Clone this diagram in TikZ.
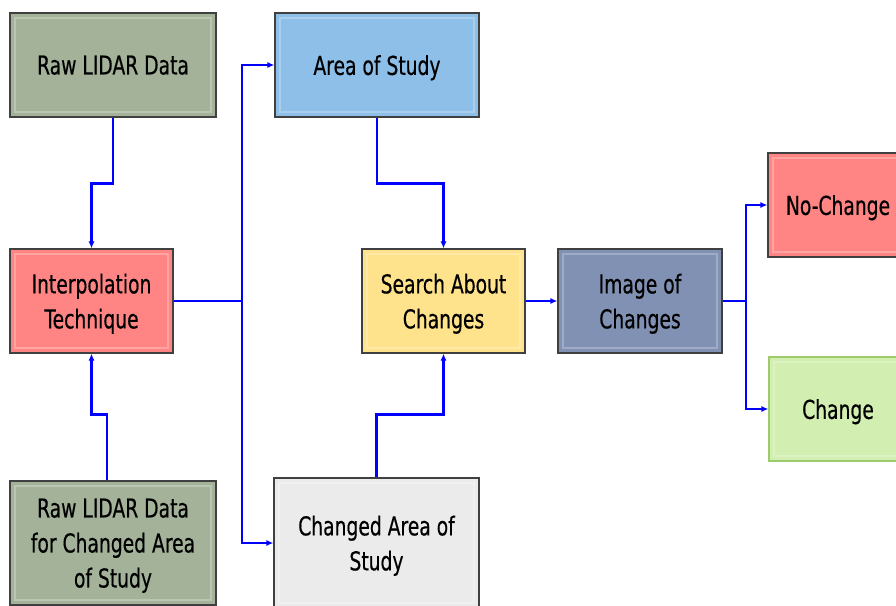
\documentclass[tikz,border=0pt]{standalone}
\usepackage{fontspec}
\setmainfont{DejaVu Sans}[FakeStretch=0.72,FakeBold=0.4]
\usetikzlibrary{arrows.meta}
\definecolor{cgray}{HTML}{A3B299}
\definecolor{cred}{HTML}{FF8585}
\definecolor{cblue}{HTML}{8DBFE8}
\definecolor{cyellow}{HTML}{FFE38C}
\definecolor{cslate}{HTML}{8191B3}
\definecolor{clight}{HTML}{EBEBEB}
\definecolor{cgreen}{HTML}{D2EEB0}
\definecolor{cgreenb}{HTML}{9BCB6B}
\definecolor{cline}{HTML}{0000FF}
\tikzset{
  box/.style={draw=black!75, line width=1.2pt, inner sep=0pt, align=center,
    font=\fontsize{26}{35}\selectfont, text depth=0pt,
    path picture={\draw[white,opacity=0.25,line width=2pt]
      ([shift={(5pt,-5pt)}]path picture bounding box.north west) rectangle
      ([shift={(-5pt,5pt)}]path picture bounding box.south east);}},
  conn/.style={draw=cline, line width=2.4pt},
  arr/.style={conn, -{Latex[length=7pt,width=6pt]}}
}
\begin{document}
\begin{tikzpicture}[x=1pt,y=-1pt]
\useasboundingbox (0,0) rectangle (896,605);
\clip (0,0) rectangle (896,605);
\node[box, fill=cgray, minimum width=206pt, minimum height=104pt] (raw) at (113,65) {Raw LIDAR Data};
\node[box, fill=cred, minimum width=163pt, minimum height=104pt] (interp) at (91.5,301) {Interpolation\\Technique};
\node[box, fill=cgray, minimum width=206pt, minimum height=124pt] (rawc) at (113,543) {Raw LIDAR Data\\for Changed Area\\of Study};
\node[box, fill=cblue, minimum width=204pt, minimum height=104pt] (area) at (377,65) {Area of Study};
\node[box, fill=clight, minimum width=205pt, minimum height=130pt] (changed) at (376.5,543) {Changed Area of\\Study};
\node[box, fill=cyellow, minimum width=163pt, minimum height=104pt] (search) at (443.5,301) {Search About\\Changes};
\node[box, fill=cslate, minimum width=164pt, minimum height=104pt] (image) at (640,301) {Image of\\Changes};
\node[box, fill=cred, minimum width=140pt, minimum height=104pt] (nochange) at (838,205) {No-Change};
\node[box, fill=cgreen, draw=cgreenb, minimum width=138pt, minimum height=104pt] (change) at (838,409) {Change};

\coordinate (j1) at (242,301);
\coordinate (j2) at (746,301);

\draw[arr] (raw.south) -- ++(0,66) -| (interp.north);
\draw[arr] ([xshift=-6pt]rawc.north) -- ++(0,-66) -| (interp.south);
\draw[conn] (interp.east) -- (j1);
\draw[arr] (j1) |- (area.west);
\draw[arr] (j1) |- (changed.west);
\draw[arr] (area.south) -- ++(0,66) -| (search.north);
\draw[arr] (changed.north) -- ++(0,-63) -| (search.south);
\draw[arr] (search.east) -- (image.west);
\draw[conn] (image.east) -- (j2);
\draw[arr] (j2) |- (nochange.west);
\draw[arr] (j2) |- (change.west);
\end{tikzpicture}
\end{document}
